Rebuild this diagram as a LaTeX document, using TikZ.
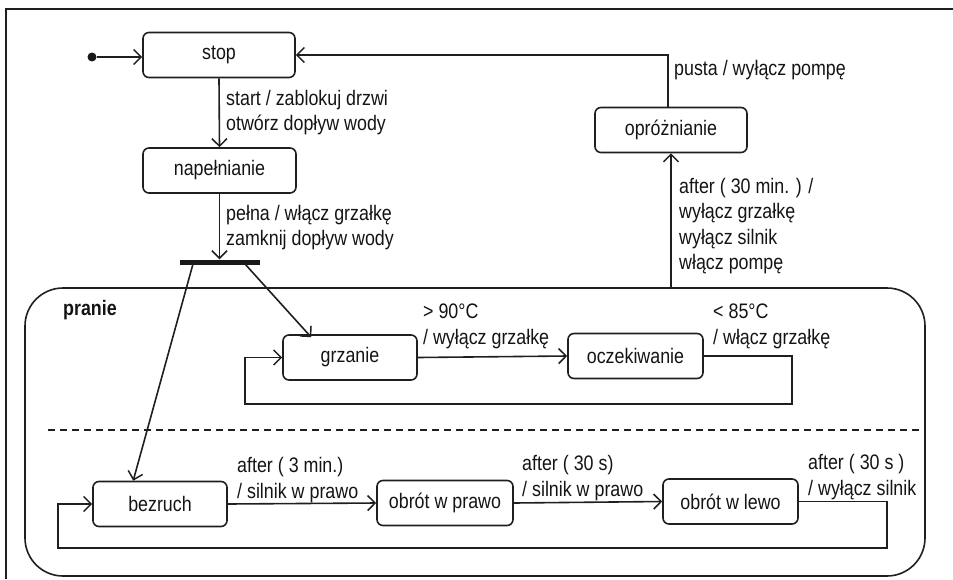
\documentclass[tikz,border=0pt]{standalone}
\usepackage{fontspec}
\setmainfont{Liberation Sans}[FakeStretch=0.85]
\usetikzlibrary{arrows.meta}
\begin{document}
\begin{tikzpicture}[x=1pt,y=-1pt,
  every node/.style={font=\fontsize{21}{25.5}\selectfont, text=black!92},
  sbox/.style={draw=black!88, rounded corners=6pt, line width=1.6pt, minimum width=#1, minimum height=45pt, inner sep=0pt},
  sbox/.default=135pt,
  lbl/.style={anchor=west, align=left, inner sep=0pt},
  ln/.style={draw=black!88, line width=1.6pt},
  arr/.style={ln, -{Straight Barb[length=7.5pt,width=15pt,line width=1.5pt]}}]
\useasboundingbox (0,0) rectangle (953,579);
% frame
\draw[ln, line width=1.2pt] (6,579) -- (6,9) -- (953,9);
% superstate
\node[draw=black!88, line width=1.6pt, rounded corners=38pt, minimum width=900pt, minimum height=288pt, inner sep=0pt] (pranie) at (475,432) {};
\node[anchor=west, inner sep=0pt, font=\fontsize{21}{22}\selectfont\bfseries] (pranielbl) at (63,310) {pranie};
\draw[ln, dash pattern=on 7pt off 5pt] (48,430) -- (pranie.east |- 0,430);
% states
\node[sbox=152pt] (stop) at (219,55) {stop};
\node[sbox=153pt] (nap) at (219.5,170.5) {napełnianie};
\node[sbox=152pt] (opr) at (671,130) {opróżnianie};
\node[sbox=134pt] (grz) at (350,357.5) {grzanie};
\node[sbox=135pt] (ocz) at (635.5,356) {oczekiwanie};
\node[sbox=134pt] (bez) at (160,504) {bezruch};
\node[sbox=136pt] (opraw) at (445,503) {obrót w prawo};
\node[sbox=135pt] (olew) at (730.5,501.5) {obrót w lewo};
% initial
\node[circle, fill=black!90, inner sep=0pt, minimum size=9pt] (init) at (92,57) {};
\draw[arr] (init) -- (stop.west |- init);
% fork bar
\node[fill=black!90, minimum width=80pt, minimum height=5pt, inner sep=0pt] (bar) at (220,262) {};
\coordinate (f1) at (193,264);
\coordinate (f2) at (245,264);
% transitions
\draw[arr] (stop.south) -- (nap.north);
\draw[arr] (nap.south) -- (bar.north -| nap.south);
\draw[arr] (f1) -- ([xshift=41pt]bez.north west);
\draw[arr] (f2) -- ([xshift=29pt,yshift=-3pt]grz.north west);
\draw[arr] (opr.north -| 668,0) |- (stop.east);
\draw[arr] (opr.south |- pranie.north) -- (opr.south);
\draw[arr] (grz.east) -- (ocz.west);
\coordinate (l1) at (792,404);
\coordinate (l2) at (245,404);
\draw[arr] (ocz.east) -| (l1) -- (l2) |- (grz.west);
\draw[arr] (bez.east) -- (opraw.west);
\draw[arr] (opraw.east) -- (olew.west);
\coordinate (m1) at (887,548);
\coordinate (m2) at (58,548);
\draw[arr] (olew.east) -| (m1) -- (m2) |- (bez.west);
% labels
\node[lbl] (t1) at (226,112.5) {start / zablokuj drzwi\\otwórz dopływ wody};
\node[lbl] (t2) at (226,227.5) {pełna / włącz grzałkę\\zamknij dopływ wody};
\node[lbl] (t3) at (674,70) {pusta / wyłącz pompę};
\node[lbl] (t4) at (679,226) {after ( 30 min. ) /\\wyłącz grzałkę\\wyłącz silnik\\włącz pompę};
\node[lbl] (t5) at (423,326.5) {> 90°C\\/ wyłącz grzałkę};
\node[lbl] (t6) at (713,326.5) {< 85°C\\/ włącz grzałkę};
\node[lbl] (t7) at (237,480) {after ( 3 min.)\\/ silnik w prawo};
\node[lbl] (t8) at (522,478) {after ( 30 s)\\/ silnik w prawo};
\node[lbl] (t9) at (808,477) {after ( 30 s )\\/ wyłącz silnik};
\end{tikzpicture}
\end{document}
